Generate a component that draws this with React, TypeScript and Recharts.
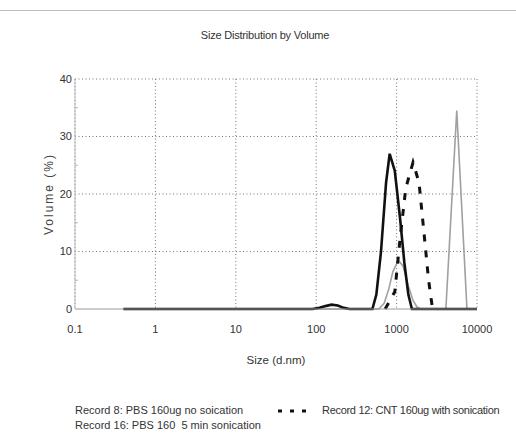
import React from 'react';
import { LineChart, Line, XAxis, YAxis, CartesianGrid, ReferenceLine } from 'recharts';

const sizeTicks = [0.1, 1, 10, 100, 1000, 10000];
const volumeTicks = [0, 10, 20, 30, 40];
const volumeMinorTicks = [5, 15, 25, 35];

const record8Size = [0.4, 1, 10, 90, 110, 130, 155, 185, 220, 260, 500, 560, 640, 740, 820, 950, 1100, 1250, 1400, 1550, 3000, 10000];
const record8Volume = [0, 0, 0, 0, 0.2, 0.5, 0.75, 0.6, 0.2, 0, 0, 2.5, 10, 22, 27, 24, 16, 8, 2.5, 0, 0, 0];

const record16Size = [0.4, 500, 600, 700, 800, 900, 1050, 1200, 1400, 1600, 1800, 2000, 4100, 5600, 7500, 10000];
const record16Volume = [0, 0, 0, 1, 3.5, 6.5, 8.5, 7.5, 4, 1.5, 0.3, 0, 0, 34.5, 0, 0];

const record12Size = [720, 950, 1100, 1300, 1600, 1900, 2200, 2500, 2800];
const record12Volume = [0, 3, 12, 21, 25.5, 22, 13, 5, 0];

const toRows = (xs: number[], ys: number[]) => xs.map((x, i) => ({ x, y: ys[i] }));

const record8 = toRows(record8Size, record8Volume);
const record16 = toRows(record16Size, record16Volume);
const record12 = toRows(record12Size, record12Volume);

const FONT = '"Liberation Sans", Arial, sans-serif';

export default function App() {
  return (
    <div style={{ position: 'absolute', left: 0, top: 0, width: 516, height: 448, background: '#fff', fontFamily: FONT }}>
      <div style={{ position: 'absolute', left: 0, top: 10, width: 516, height: 1, background: '#bbb' }} />
      <div style={{ position: 'absolute', left: 0, top: 29, width: 516, textAlign: 'center', fontSize: 11, letterSpacing: -0.2, color: '#333', paddingLeft: 14, boxSizing: 'border-box' }}>
        Size Distribution by Volume
      </div>
      <LineChart
        width={516}
        height={448}
        margin={{ top: 79, right: 39, bottom: 79, left: 25 }}
        style={{ position: 'absolute', left: 0, top: 0 }}
      >
        <CartesianGrid stroke="#777" strokeDasharray="1 2.5" horizontalValues={[10, 20, 30, 40]} />
        <XAxis
          dataKey="x"
          type="number"
          scale="log"
          domain={[0.1, 10000]}
          ticks={sizeTicks}
          allowDataOverflow
          height={60}
          tickLine={false}
          tickMargin={10}
          axisLine={{ stroke: '#999' }}
          tick={{ fontSize: 11, fill: '#333', fontFamily: FONT }}
          tickFormatter={(v: number) => String(v)}
          label={{ value: 'Size (d.nm)', position: 'insideTop', offset: 47, fontSize: 11.5, fill: '#333', fontFamily: FONT }}
        />
        <YAxis
          type="number"
          domain={[0, 40]}
          ticks={volumeTicks}
          width={50}
          tickLine={false}
          tickSize={0}
          tickMargin={3}
          axisLine={{ stroke: '#bbb' }}
          tick={{ fontSize: 11, fill: '#333', fontFamily: FONT }}
          label={{ value: 'Volume (%)', angle: -90, position: 'insideLeft', offset: 24, fontSize: 12, fill: '#444', fontFamily: FONT, style: { textAnchor: 'middle', letterSpacing: 2 } }}
        />
        {volumeMinorTicks.map((v) => (
          <ReferenceLine key={v} segment={[{ x: 0.1, y: v }, { x: 0.108, y: v }]} stroke="#aaa" strokeWidth={1} />
        ))}
        <Line data={record16} dataKey="y" stroke="#a0a0a0" strokeWidth={1.6} dot={false} isAnimationActive={false} />
        <Line data={record12} dataKey="y" stroke="#111" strokeWidth={3} strokeDasharray="7 9" dot={false} isAnimationActive={false} />
        <Line data={record8} dataKey="y" stroke="#111" strokeWidth={2.6} dot={false} isAnimationActive={false} />
      </LineChart>
      <div style={{ position: 'absolute', left: 75, top: 403, fontSize: 11, color: '#333', lineHeight: '15px', whiteSpace: 'nowrap' }}>
        <div>Record 8: PBS 160ug no soication</div>
        <div>Record 16: PBS 160&nbsp;&nbsp;5 min sonication</div>
      </div>
      <div style={{ position: 'absolute', left: 277, top: 403, fontSize: 11, color: '#333', lineHeight: '15px', display: 'flex', alignItems: 'center', whiteSpace: 'nowrap' }}>
        <svg width={30} height={10} style={{ marginRight: 15 }}>
          <line x1={1} y1={5} x2={30} y2={5} stroke="#111" strokeWidth={3} strokeDasharray="4 8" />
        </svg>
        <span style={{ letterSpacing: -0.3 }}>Record 12: CNT 160ug with sonication</span>
      </div>
    </div>
  );
}
